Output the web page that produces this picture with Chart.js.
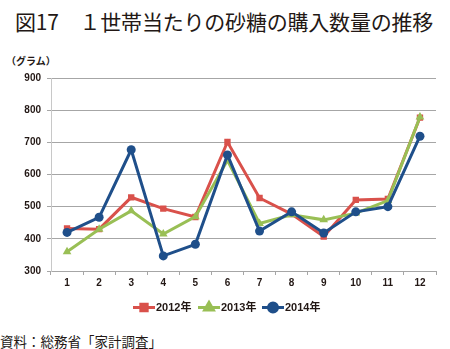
<!DOCTYPE html>
<html>
<head>
<meta charset="utf-8">
<script src="https://cdn.jsdelivr.net/npm/chart.js@4"></script>
<style>
  body { margin: 0; background: #fff; width: 450px; height: 349px; overflow: hidden; position: relative; font-family: "Noto Sans CJK JP", sans-serif; }
  #title { position: absolute; left: 15px; top: 6px; font-size: 21px; color: #231815; white-space: nowrap; letter-spacing: -0.2px; }
  #unit { position: absolute; left: 6px; top: 53px; font-size: 10px; font-weight: bold; color: #231815; }
  #source { position: absolute; left: 0px; top: 331px; font-size: 13.5px; color: #231815; white-space: nowrap; }
  #wrap { position: absolute; left: 0; top: 45px; width: 450px; height: 280px; }
</style>
</head>
<body>
<div id="title">図17　１世帯当たりの砂糖の購入数量の推移</div>
<div id="unit">（グラム）</div>
<div id="wrap"><canvas id="chart"></canvas></div>
<div id="source">資料：総務省「家計調査」</div>
<script>
// months on the x axis
const months = ['1', '2', '3', '4', '5', '6', '7', '8', '9', '10', '11', '12'];
const seriesNames = ['2012年', '2013年', '2014年'];
// grams per household
const values2012 = [432, 430, 529, 494, 468, 701, 527, 477, 407, 521, 524, 777];
const values2013 = [360, 430, 487, 415, 469, 644, 448, 475, 459, 480, 519, 779];
const values2014 = [420, 467, 677, 347, 383, 661, 424, 484, 418, 484, 500, 719];
const yTicks = [300, 400, 500, 600, 700, 800, 900];

const red = '#d9514b';
const green = '#99bf55';
const blue = '#1f4f8a';

// excel style legend: line with the marker in the middle
const legendPlugin = {
    id: 'lineLegend',
    afterDraw(chart) {
        const ctx = chart.ctx;
        const y = 262.5;
        const starts = [133, 198, 262];
        ctx.save();
        chart.data.datasets.forEach((ds, i) => {
            const x = starts[i];
            ctx.strokeStyle = ds.borderColor;
            ctx.lineWidth = 3;
            ctx.beginPath();
            ctx.moveTo(x, y);
            ctx.lineTo(x + 22, y);
            ctx.stroke();
            Chart.helpers.drawPoint(ctx, {
                pointStyle: ds.pointStyle,
                radius: ds.pointRadius,
                borderWidth: 1
            }, x + 11, y);
            ctx.fillStyle = ds.borderColor;
            ctx.fill();
            ctx.fillStyle = '#231815';
            ctx.font = 'bold 11px "Liberation Sans", "Noto Sans CJK JP"';
            ctx.textBaseline = 'middle';
            ctx.fillText(ds.label, x + 23, y + 0.5);
        });
        ctx.restore();
    }
};

const ctx = document.getElementById('chart').getContext('2d');

new Chart(ctx, {
    type: 'line',
    data: {
        labels: months,
        datasets: [
            {
                label: seriesNames[0],
                data: values2012,
                borderColor: red,
                backgroundColor: red,
                borderWidth: 3,
                pointStyle: 'rect',
                pointRadius: 4.5,
                pointBorderWidth: 0,
                order: 2
            },
            {
                label: seriesNames[1],
                data: values2013,
                borderColor: green,
                backgroundColor: green,
                borderWidth: 3,
                pointStyle: 'triangle',
                pointRadius: 5,
                pointBorderWidth: 0,
                order: 1
            },
            {
                label: seriesNames[2],
                data: values2014,
                borderColor: blue,
                backgroundColor: blue,
                borderWidth: 3,
                pointStyle: 'circle',
                pointRadius: 4.5,
                pointBorderWidth: 0,
                order: 0
            }
        ]
    },
    options: {
        responsive: true,
        maintainAspectRatio: false,
        animation: false,
        layout: {
            padding: { top: 33, right: 14, bottom: 34, left: 0 }
        },
        scales: {
            x: {
                offset: true,
                grid: {
                    offset: true,
                    drawOnChartArea: false,
                    color: '#a6a6a6',
                    tickLength: 4
                },
                border: { color: '#a6a6a6' },
                ticks: {
                    color: '#231815',
                    padding: 2,
                    maxRotation: 0,
                    font: { family: '"Liberation Sans", sans-serif', size: 10, weight: 'bold' }
                }
            },
            y: {
                min: 300,
                max: 900,
                afterBuildTicks: axis => { axis.ticks = yTicks.map(v => ({ value: v })); },
                afterFit: axis => { axis.width = 51; },
                grid: {
                    color: '#a6a6a6',
                    tickLength: 4
                },
                border: { color: '#c8c8c8' },
                ticks: {
                    color: '#231815',
                    padding: 6,
                    font: { family: '"Liberation Sans", sans-serif', size: 10, weight: 'bold' }
                }
            }
        },
        plugins: {
            legend: { display: false },
            tooltip: { enabled: false }
        }
    },
    plugins: [legendPlugin]
});
</script>
</body>
</html>
